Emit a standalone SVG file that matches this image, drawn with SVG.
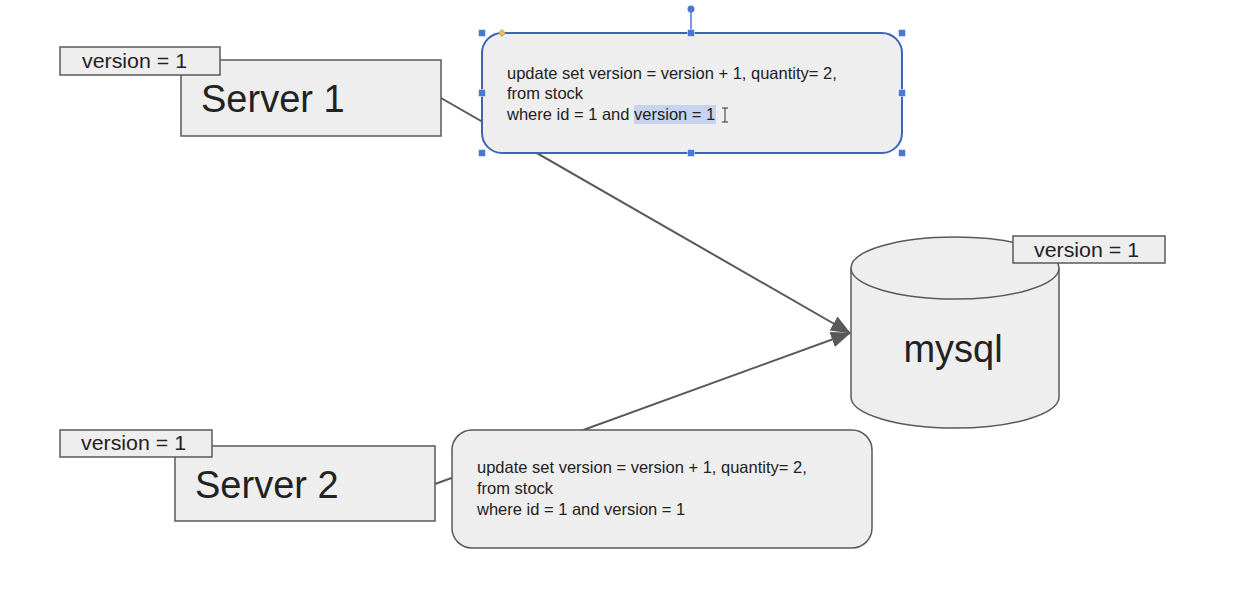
<svg xmlns="http://www.w3.org/2000/svg" width="1238" height="608" viewBox="0 0 1238 608">
<style>
.box{fill:#eeeeee;stroke:#595959;stroke-width:1.5}
.lbl{font-family:"Liberation Sans",Arial,sans-serif;fill:#222}
.small{font-size:20px}
.big{font-size:38px}
.sql{font-size:16.5px}
.conn{stroke:#595959;stroke-width:2;fill:none}
.h{fill:#4a78d6;stroke:#ffffff;stroke-width:0.5}
</style>
<defs>
<marker id="arrow" viewBox="0 0 20 16" refX="19" refY="8" markerWidth="20" markerHeight="16" markerUnits="userSpaceOnUse" orient="auto">
<path d="M0,0 L20,8 L0,16 Z" fill="#595959"/>
</marker>
</defs>
<rect width="1238" height="608" fill="#ffffff"/>
<g id="connectors">
<line class="conn" x1="441" y1="98" x2="850" y2="333" marker-end="url(#arrow)"/>
<line class="conn" x1="435" y1="484" x2="850" y2="333" marker-end="url(#arrow)"/>
</g>
<g id="server1">
<rect class="box" x="181" y="60" width="260" height="76"/>
<text class="lbl big" x="201" y="112">Server 1</text>
</g>
<g id="server1-version">
<rect class="box" x="60" y="47" width="160" height="28"/>
<text class="lbl small" x="82" y="68" textLength="105" lengthAdjust="spacingAndGlyphs">version = 1</text>
</g>
<g id="server2">
<rect class="box" x="175" y="446" width="260" height="75"/>
<text class="lbl big" x="195" y="498">Server 2</text>
</g>
<g id="server2-version">
<rect class="box" x="60" y="430" width="152" height="27"/>
<text class="lbl small" x="81" y="450" textLength="105" lengthAdjust="spacingAndGlyphs">version = 1</text>
</g>
<g id="query1">
<rect x="482" y="33" width="420" height="120" rx="20" fill="#eeeeee" stroke="#3f63b8" stroke-width="2"/>
<rect x="634" y="105" width="82" height="19" fill="#c6d4f0"/>
<text class="lbl sql" x="507" y="79">update set version = version + 1, quantity= 2,</text>
<text class="lbl sql" x="507" y="99">from stock</text>
<text class="lbl sql" x="507" y="120">where id = 1 and version = 1</text>
<path d="M722,108 h6 M725,108 v14 M722,122 h6" stroke="#333" stroke-width="1" fill="none"/>
</g>
<g id="selection">
<line x1="691" y1="33" x2="691" y2="10" stroke="#4a78d6" stroke-width="1.5"/>
<circle cx="691" cy="9" r="3.5" fill="#4a78d6"/>
<rect class="h" x="478.5" y="29.5" width="7" height="7"/>
<rect class="h" x="687.5" y="29.5" width="7" height="7"/>
<rect class="h" x="898.5" y="29.5" width="7" height="7"/>
<rect class="h" x="478.5" y="89.5" width="7" height="7"/>
<rect class="h" x="898.5" y="89.5" width="7" height="7"/>
<rect class="h" x="478.5" y="149.5" width="7" height="7"/>
<rect class="h" x="687.5" y="149.5" width="7" height="7"/>
<rect class="h" x="898.5" y="149.5" width="7" height="7"/>
<path d="M502,29.5 L505.5,33 L502,36.5 L498.5,33 Z" fill="#e8c25a" stroke="#a08030" stroke-width="0.7"/>
</g>
<g id="query2">
<rect class="box" x="452" y="430" width="420" height="118" rx="20"/>
<text class="lbl sql" x="477" y="473">update set version = version + 1, quantity= 2,</text>
<text class="lbl sql" x="477" y="494">from stock</text>
<text class="lbl sql" x="477" y="515">where id = 1 and version = 1</text>
</g>
<g id="mysql">
<path class="box" d="M851,268 L851,397 A104,31 0 0 0 1059,397 L1059,268"/>
<ellipse class="box" cx="955" cy="268" rx="104" ry="31"/>
<text class="lbl big" x="953" y="362" text-anchor="middle">mysql</text>
</g>
<g id="mysql-version">
<rect class="box" x="1013" y="236" width="152" height="27"/>
<text class="lbl small" x="1034" y="257" textLength="105" lengthAdjust="spacingAndGlyphs">version = 1</text>
</g>
</svg>
